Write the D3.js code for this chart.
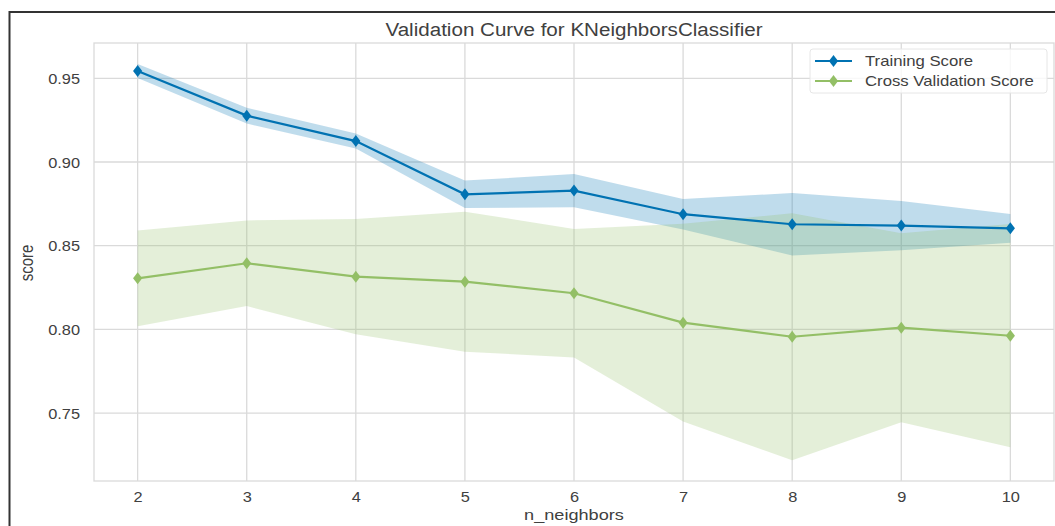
<!DOCTYPE html>
<html>
<head>
<meta charset="utf-8">
<script src="https://d3js.org/d3.v7.min.js"></script>
<style>
    html, body { margin: 0; padding: 0; background: #fff; }
    svg { display: block; font-family: "Liberation Sans", Arial, sans-serif; }
</style>
</head>
<body>
<div id="chart"></div>
<script>
//Datos
const nNeighbors = [2, 3, 4, 5, 6, 7, 8, 9, 10];
const trainMean = [0.9544, 0.9277, 0.9125, 0.8807, 0.8829, 0.8688, 0.8628, 0.8620, 0.8604];
const trainStd = [0.0042, 0.0047, 0.0045, 0.0082, 0.0099, 0.0091, 0.0187, 0.0147, 0.0086];
const cvMean = [0.8305, 0.8395, 0.8315, 0.8285, 0.8216, 0.8040, 0.7956, 0.8010, 0.7962];
const cvStd = [0.0286, 0.0256, 0.0344, 0.0418, 0.0384, 0.0591, 0.0738, 0.0565, 0.0667];
const yTicks = [0.75, 0.80, 0.85, 0.90, 0.95];
const seriesNames = ['Training Score', 'Cross Validation Score'];

//Colores
const COLOR_TRAIN = '#0072B2',
    COLOR_CV = '#93bf66',
    COLOR_GRID = '#dadada';

//La imagen original está algo estirada en horizontal
const SX = 1.17;

let W = 1055, H = 526;
let margin = {top: 43, right: 1, bottom: 45, left: 94};

let svg = d3.select('#chart')
    .append('svg')
        .attr('width', W)
        .attr('height', H);

let x = d3.scaleLinear()
    .domain([1.6, 10.4])
    .range([margin.left, W - margin.right]);

let y = d3.scaleLinear()
    .domain([0.7094, 0.9711])
    .range([H - margin.bottom, margin.top]);

function stretchedText(g, tx, ty, str, size, anchor, rotate) {
    return g.append('text')
        .attr('transform', 'translate(' + tx + ',' + ty + ') scale(' + SX + ',1)' + (rotate ? ' rotate(' + rotate + ')' : ''))
        .attr('text-anchor', anchor)
        .attr('font-size', size)
        .attr('fill', '#404040')
        .text(str);
}

//Marco de la captura
svg.append('path')
    .attr('d', 'M9.5,' + H + 'V12H' + W)
    .attr('fill', 'none')
    .attr('stroke', '#333')
    .attr('stroke-width', 2);

//Rejilla
let grid = svg.append('g');
grid.selectAll('.gx')
    .data(nNeighbors)
    .enter()
    .append('line')
    .attr('x1', function(d) { return x(d); })
    .attr('x2', function(d) { return x(d); })
    .attr('y1', y.range()[0])
    .attr('y2', y.range()[1])
    .attr('stroke', COLOR_GRID)
    .attr('stroke-width', 1.3);

grid.selectAll('.gy')
    .data(yTicks)
    .enter()
    .append('line')
    .attr('x1', x.range()[0])
    .attr('x2', x.range()[1])
    .attr('y1', function(d) { return y(d); })
    .attr('y2', function(d) { return y(d); })
    .attr('stroke', COLOR_GRID)
    .attr('stroke-width', 1.3);

//Ejes (sin marcas)
let xAxis = svg.append('g')
    .attr('transform', 'translate(0,' + (H - margin.bottom) + ')')
    .call(d3.axisBottom(x).tickValues(nNeighbors).tickSize(0).tickFormat(d3.format('d')));
xAxis.select('.domain').remove();
xAxis.selectAll('text').remove();
xAxis.selectAll('.tick').each(function(d) {
    stretchedText(d3.select(this), 0, 20.5, d, 14, 'middle');
});

let yAxis = svg.append('g')
    .attr('transform', 'translate(' + margin.left + ',0)')
    .call(d3.axisLeft(y).tickValues(yTicks).tickSize(0).tickFormat(d3.format('.2f')));
yAxis.select('.domain').remove();
yAxis.selectAll('text').remove();
yAxis.selectAll('.tick').each(function(d) {
    stretchedText(d3.select(this), -14, 5.2, d3.format('.2f')(d), 14, 'end');
});

//Bandas
let area = function(mean, std) {
    return d3.area()
        .x(function(d, i) { return x(nNeighbors[i]); })
        .y0(function(d, i) { return y(mean[i] - std[i]); })
        .y1(function(d, i) { return y(mean[i] + std[i]); });
};

svg.append('path')
    .datum(nNeighbors)
    .attr('d', area(trainMean, trainStd))
    .attr('fill', COLOR_TRAIN)
    .attr('fill-opacity', 0.25);

svg.append('path')
    .datum(nNeighbors)
    .attr('d', area(cvMean, cvStd))
    .attr('fill', COLOR_CV)
    .attr('fill-opacity', 0.25);

//Líneas y marcadores
let diamond = 'M0,-6L3.9,0L0,6L-3.9,0Z';

function drawSeries(mean, color) {
    svg.append('path')
        .datum(nNeighbors)
        .attr('fill', 'none')
        .attr('stroke', color)
        .attr('stroke-width', 2.2)
        .attr('d', d3.line()
            .x(function(d) { return x(d); })
            .y(function(d, i) { return y(mean[i]); })
        );

    svg.selectAll(null)
        .data(nNeighbors)
        .enter()
        .append('path')
        .attr('d', diamond)
        .attr('transform', function(d, i) { return 'translate(' + x(d) + ',' + y(mean[i]) + ') scale(' + SX + ',1)'; })
        .attr('fill', color);
}

drawSeries(trainMean, COLOR_TRAIN);
drawSeries(cvMean, COLOR_CV);

//Marco de los ejes
svg.append('rect')
    .attr('x', x.range()[0])
    .attr('y', y.range()[1])
    .attr('width', x.range()[1] - x.range()[0])
    .attr('height', y.range()[0] - y.range()[1])
    .attr('fill', 'none')
    .attr('stroke', COLOR_GRID)
    .attr('stroke-width', 1.3);

//Leyenda
let legend = svg.append('g');
legend.append('rect')
    .attr('x', 810)
    .attr('y', 49)
    .attr('width', 237)
    .attr('height', 44)
    .attr('rx', 3)
    .attr('fill', '#fff')
    .attr('fill-opacity', 0.8)
    .attr('stroke', '#e6e6e6');

[COLOR_TRAIN, COLOR_CV].forEach(function(color, i) {
    let ly = 61 + i * 20;
    legend.append('line')
        .attr('x1', 815)
        .attr('x2', 852)
        .attr('y1', ly)
        .attr('y2', ly)
        .attr('stroke', color)
        .attr('stroke-width', 2.2);
    legend.append('path')
        .attr('d', diamond)
        .attr('transform', 'translate(833.5,' + ly + ') scale(' + SX + ',1)')
        .attr('fill', color);
    stretchedText(legend, 865, ly + 5, seriesNames[i], 14.3, 'start');
});

//Títulos
stretchedText(svg, 574, 36, 'Validation Curve for KNeighborsClassifier', 17.6, 'middle');
stretchedText(svg, 574, 520, 'n_neighbors', 15.5, 'middle');
stretchedText(svg, 33, 263, 'score', 15, 'middle', -90);
</script>
</body>
</html>
